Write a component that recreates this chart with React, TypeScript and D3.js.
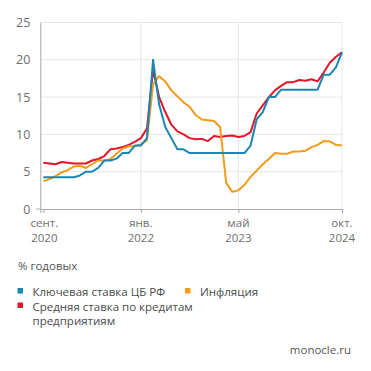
import { useEffect, useRef } from 'react';
import * as d3 from 'd3';

// monthly values, Sep 2020 .. Oct 2024
const months = d3.range(50);

const keyRate = [
  4.25, 4.25, 4.25, 4.25, 4.25, 4.25, 4.5, 5, 5, 5.5, 6.5, 6.5, 6.75, 7.5, 7.5, 8.5,
  8.5, 9.5, 20, 14, 11, 9.5, 8, 8, 7.5, 7.5, 7.5, 7.5, 7.5, 7.5, 7.5, 7.5,
  7.5, 7.5, 8.5, 12, 13, 15, 15, 16, 16, 16, 16, 16, 16, 16, 18, 18, 19, 21,
];

const loanRate = [
  6.2, 6.1, 6.0, 6.3, 6.2, 6.1, 6.1, 6.1, 6.5, 6.7, 7.1, 8.0, 8.1, 8.3, 8.6, 9.0,
  9.5, 10.8, 18.6, 15.0, 13.0, 11.3, 10.4, 10.0, 9.5, 9.35, 9.4, 9.1, 9.8, 9.65, 9.8, 9.85,
  9.65, 9.8, 10.3, 12.8, 13.9, 15.0, 15.9, 16.5, 17.0, 17.0, 17.3, 17.2, 17.4, 17.1, 18.3, 19.6, 20.4, 21.0,
];

const inflation = [
  3.7, 4.0, 4.4, 4.9, 5.2, 5.7, 5.8, 5.5, 6.0, 6.5, 6.5, 6.7, 7.4, 8.1, 8.4, 8.4,
  8.7, 9.2, 16.7, 17.8, 17.1, 15.9, 15.1, 14.3, 13.7, 12.6, 12.0, 11.9, 11.8, 11.0, 3.5, 2.3,
  2.5, 3.25, 4.3, 5.15, 6.0, 6.7, 7.5, 7.4, 7.4, 7.7, 7.7, 7.8, 8.3, 8.6, 9.1, 9.05, 8.6, 8.5,
];

const tickMonths = [0, 16, 32, 49];
const tickLabels = [['сент.', '2020'], ['янв.', '2022'], ['май', '2023'], ['окт.', '2024']];
const yTicks = [0, 5, 10, 15, 20, 25];

const seriesNames = ['Ключевая ставка ЦБ РФ', 'Средняя ставка по кредитам', 'Инфляция'];

const BLUE = '#1a86b2';
const RED = '#e2152b';
const ORANGE = '#f09c1a';
const FONT = '"Open Sans", "Noto Sans", sans-serif';

export default function App() {
  const ref = useRef<SVGSVGElement>(null);

  useEffect(() => {
    const svg = d3.select(ref.current);
    svg.selectAll('*').remove();

    const x = d3.scaleLinear().domain([-0.5, 49]).range([40.3, 342]);
    const y = d3.scaleLinear().domain([0, 25]).range([209, 22.5]);

    // grid
    const grid = svg.append('g');
    grid.selectAll('line.h')
      .data(yTicks.slice(1))
      .join('line')
      .attr('x1', x(-0.5)).attr('x2', x(49))
      .attr('y1', d => y(d)).attr('y2', d => y(d))
      .attr('stroke', '#e6e6e6');
    grid.selectAll('line.v')
      .data(tickMonths.slice(1))
      .join('line')
      .attr('x1', d => x(d)).attr('x2', d => x(d))
      .attr('y1', y(25)).attr('y2', y(0))
      .attr('stroke', '#e6e6e6');

    // y axis
    const yAxis = svg.append('g')
      .attr('transform', `translate(${x(-0.5)},0)`)
      .call(d3.axisLeft(y).tickValues(yTicks).tickSize(0).tickPadding(10));
    yAxis.select('.domain').attr('stroke', '#a8a8a8');
    yAxis.selectAll('text')
      .attr('fill', '#6e6e6e')
      .style('font-family', FONT)
      .style('font-size', '12.5px');
    svg.append('line')
      .attr('x1', x(-0.5) - 4).attr('x2', x(-0.5))
      .attr('y1', y(0)).attr('y2', y(0))
      .attr('stroke', '#a8a8a8');

    // x axis
    const xAxis = svg.append('g')
      .attr('transform', `translate(0,${y(0)})`)
      .call(d3.axisBottom(x).tickValues(tickMonths).tickSize(4).tickFormat(() => ''));
    xAxis.select('.domain').attr('stroke', '#a8a8a8');
    xAxis.selectAll('.tick line').attr('stroke', '#a8a8a8');
    xAxis.selectAll('.tick text').remove();
    tickMonths.forEach((m, i) => {
      const tx = x(m) + (i === 0 ? 1 : 0);
      [[tickLabels[i][0], 227], [tickLabels[i][1], 242]].forEach(([s, ty]) => {
        svg.append('text')
          .attr('x', tx)
          .attr('y', ty as number)
          .attr('text-anchor', 'middle')
          .attr('fill', '#6e6e6e')
          .style('font-family', FONT)
          .style('font-size', '11.5px')
          .text(s as string);
      });
    });

    // lines
    const line = (vals: number[]) =>
      d3.line<number>().x(d => x(d)).y(d => y(vals[d]))(months);

    [[loanRate, RED], [inflation, ORANGE], [keyRate, BLUE]].forEach(([vals, c]) => {
      svg.append('path')
        .attr('d', line(vals as number[]))
        .attr('fill', 'none')
        .attr('stroke', c as string)
        .attr('stroke-width', 2)
        .attr('stroke-linejoin', 'round');
    });

    // captions
    const txt = (tx: number, ty: number, s: string, color = '#555', anchor = 'start') =>
      svg.append('text')
        .attr('x', tx).attr('y', ty)
        .attr('text-anchor', anchor)
        .attr('fill', color)
        .style('font-family', FONT)
        .style('font-size', '11.5px')
        .text(s);

    txt(18, 270, '% годовых');

    // legend
    const legend = [
      { name: seriesNames[0], color: BLUE, x: 17.5, y: 288 },
      { name: seriesNames[1], color: RED, x: 17.5, y: 302.5 },
      { name: seriesNames[2], color: ORANGE, x: 185, y: 288 },
    ];
    legend.forEach(l => {
      svg.append('rect')
        .attr('x', l.x).attr('y', l.y)
        .attr('width', 5.5).attr('height', 5.5)
        .attr('fill', l.color);
      txt(l.x + 15, l.y + 8, l.name, '#4a4a4a');
    });
    txt(32.5, 325, 'предприятиям', '#4a4a4a');

    txt(351, 353.5, 'monocle.ru', '#555', 'end');
  }, []);

  return (
    <svg
      ref={ref}
      width={371}
      height={371}
      style={{ position: 'absolute', left: 0, top: 0, background: '#fff' }}
    />
  );
}
